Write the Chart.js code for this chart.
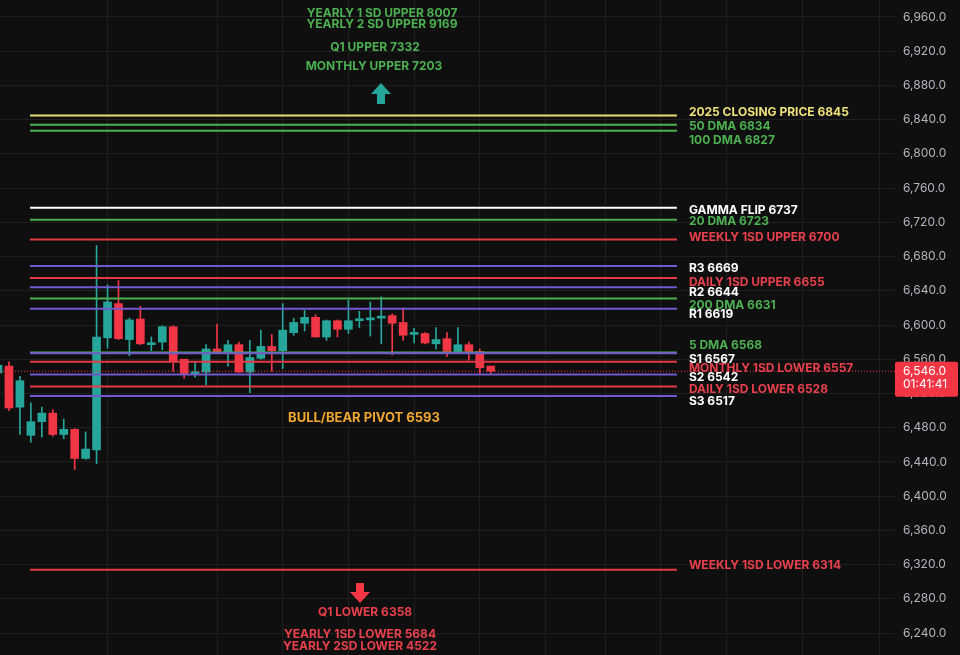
<!DOCTYPE html>
<html><head><meta charset="utf-8">
<script src="https://cdn.jsdelivr.net/npm/chart.js@4"></script>
<style>html,body{margin:0;padding:0;background:#0f0f0f;}#wrap{width:960px;height:655px;position:relative}</style>
</head><body><div id="wrap"><canvas id="c"></canvas></div>
<script>
// ---- data ----
const candleIndex = Array.from({length: 46}, (_, i) => i);
const opens  = [6544,6552,6504,6471,6487,6497,6472,6478,6444,6454,6585,6625,6583,6607,6577,6580,6598,6560,6543,6545,6572,6568,6577,6545,6561,6575,6570,6591,6602,6609,6586,6605,6595,6605,6606,6608,6611,6603,6589,6590,6578,6584,6569,6577,6569,6552];
const highs  = [6557,6557,6540,6509,6504,6501,6490,6479,6475,6693,6647,6652,6608,6622,6586,6599,6599,6560,6556,6577,6601,6582,6580,6582,6594,6589,6625,6608,6617,6612,6606,6606,6629,6616,6627,6633,6613,6620,6596,6591,6597,6591,6597,6580,6572,6552];
const lows   = [6540,6500,6472,6463,6469,6470,6467,6431,6443,6438,6573,6583,6564,6577,6570,6571,6546,6538,6539,6530,6568,6552,6545,6521,6560,6546,6549,6588,6593,6586,6582,6586,6590,6597,6587,6578,6565,6582,6579,6578,6572,6563,6568,6559,6543,6543];
const closes = [6553,6503,6535,6487,6497,6472,6478,6444,6455,6586,6627,6584,6606,6578,6579,6598,6558,6543,6545,6572,6569,6577,6545,6562,6575,6570,6594,6603,6609,6586,6605,6595,6605,6607,6608,6610,6602,6588,6591,6579,6583,6569,6577,6569,6550,6546];

const levelNames  = ["2025 CLOSING PRICE","50 DMA","100 DMA","GAMMA FLIP","20 DMA","WEEKLY 1SD UPPER","R3","DAILY 1SD UPPER","R2","200 DMA","R1","5 DMA","S1","MONTHLY 1SD LOWER","S2","DAILY 1SD LOWER","S3","WEEKLY 1SD LOWER"];
const levelValues = [6845,6834,6827,6737,6723,6700,6669,6655,6644,6631,6619,6568,6567,6557,6542,6528,6517,6314];
const levelKinds  = ["close","ma","ma","gamma","ma","sd","pivot","sd","pivot","ma","pivot","ma","pivot","sd","pivot","sd","pivot","sd"];

const topNotes    = ["YEARLY 1 SD UPPER 8007","YEARLY 2 SD UPPER 9169","Q1 UPPER 7332","MONTHLY UPPER 7203"];
const bottomNotes = ["Q1 LOWER 6358","YEARLY 1SD LOWER 5684","YEARLY 2SD LOWER 4522"];
const pivotNote   = "BULL/BEAR PIVOT 6593";

const yTickValues = [6240,6280,6320,6360,6400,6440,6480,6520,6560,6600,6640,6680,6720,6760,6800,6840,6880,6920,6960];
const timeGridIdx = [3,17,23,29,35,41,47,53,58,63,70,77];
const lastPrice = 6546.0;
const countdown = "01:41:41";

// ---- styles / layout ----
const UP = '#26a69a', DOWN = '#f23645';
const lineColor = {close:'#e8dc6a', ma:'#4caf50', gamma:'#ffffff', sd:'#e53945', pivot:'#7159cf'};
const textColor = {close:'#ece07a', ma:'#4caf50', gamma:'#ffffff', sd:'#e8404c', pivot:'#ffffff'};
const LINE_START = 2.92, LINE_END = 62.0;
const X_MIN = 0.18, X_MAX = 81.92;
const Y_MIN = 6214.29, Y_MAX = 6979.87;
const FONT = 'Inter, "Noto Sans", sans-serif';
const topNotePos = [[382,13],[382,24],[375,47],[374,66]];
const bottomNotePos = [[365,612],[360,634],[360,646]];
// pixel nudges of the right-hand labels (de-overlap), in level order
const labelNudge = [-3,2,10,3,2,-2,2,4,5,7,6,-7,6,7,3,3,5,-4];

const candleColors = opens.map((o,i)=> closes[i] >= o ? UP : DOWN);

const datasets = [];
levelValues.forEach((v,i)=>{
  datasets.push({
    type:'line', label: levelNames[i],
    data:[{x:LINE_START,y:v},{x:LINE_END,y:v}],
    borderColor: lineColor[levelKinds[i]], borderWidth: 2,
    pointRadius: 0, order: -i
  });
});
datasets.push({
  type:'line', label:'last',
  data:[{x:X_MIN,y:lastPrice},{x:X_MAX,y:lastPrice}],
  borderColor: DOWN, borderWidth: 1, borderDash:[1,2], pointRadius:0, order: -100
});
datasets.push({
  type:'bar', label:'wick', grouped:false,
  data: candleIndex.map(i=>({x:i, y:[lows[i], highs[i]]})),
  backgroundColor: candleColors, barThickness: 1, order: 200
});
datasets.push({
  type:'bar', label:'body', grouped:false,
  data: candleIndex.map(i=>({x:i, y:[opens[i], closes[i]]})),
  backgroundColor: candleColors, barThickness: 8, minBarLength: 2, order: 100
});

const annot = {
  id:'annot',
  afterDatasetsDraw(chart){
    const ctx = chart.ctx, ys = chart.scales.y, xs = chart.scales.x;
    ctx.save();
    const lx = xs.getPixelForValue(LINE_END) + 12;
    ctx.font = 'bold 12px ' + FONT;
    ctx.textAlign = 'left'; ctx.textBaseline = 'middle';
    levelValues.forEach((v,i)=>{
      ctx.fillStyle = textColor[levelKinds[i]];
      ctx.fillText(levelNames[i] + ' ' + v, lx, ys.getPixelForValue(v) + labelNudge[i]);
    });
    ctx.textAlign = 'center';
    ctx.fillStyle = '#4caf50';
    topNotes.forEach((t,i)=> ctx.fillText(t, topNotePos[i][0], topNotePos[i][1]));
    ctx.fillStyle = '#e8404c';
    bottomNotes.forEach((t,i)=> ctx.fillText(t, bottomNotePos[i][0], bottomNotePos[i][1]));
    ctx.font = 'bold 13px ' + FONT;
    ctx.fillStyle = '#f0a830';
    ctx.fillText(pivotNote, 364, 418);
    ctx.fillStyle = UP;
    ctx.beginPath();
    ctx.moveTo(381,83); ctx.lineTo(391,94); ctx.lineTo(385,94); ctx.lineTo(385,104);
    ctx.lineTo(377,104); ctx.lineTo(377,94); ctx.lineTo(371,94); ctx.closePath(); ctx.fill();
    ctx.fillStyle = DOWN;
    ctx.beginPath();
    ctx.moveTo(360,603); ctx.lineTo(370,592); ctx.lineTo(364,592); ctx.lineTo(364,583);
    ctx.lineTo(356,583); ctx.lineTo(356,592); ctx.lineTo(350,592); ctx.closePath(); ctx.fill();
    ctx.restore();
  },
  afterDraw(chart){
    const ctx = chart.ctx, ys = chart.scales.y;
    const y = ys.getPixelForValue(lastPrice);
    const x0 = chart.chartArea.right;
    ctx.save();
    ctx.fillStyle = DOWN;
    ctx.beginPath();
    ctx.roundRect(x0, y-9.5, 63, 35, 2);
    ctx.fill();
    ctx.fillStyle = '#ffffff';
    ctx.font = '12px ' + FONT;
    ctx.textAlign = 'left'; ctx.textBaseline = 'middle';
    ctx.fillText(lastPrice.toLocaleString('en-US',{minimumFractionDigits:1, maximumFractionDigits:1}), x0+8, y+0.5);
    ctx.fillText(countdown, x0+8, y+13.5);
    ctx.restore();
  }
};

const bg = {
  id:'bg',
  beforeDraw(chart){
    const ctx = chart.ctx;
    ctx.save(); ctx.fillStyle = '#0f0f0f'; ctx.fillRect(0,0,chart.width,chart.height); ctx.restore();
  }
};

new Chart(document.getElementById('c'), {
  type:'bar',
  data:{ datasets },
  options:{
    responsive:true, maintainAspectRatio:false, animation:false,
    layout:{ padding:0 },
    plugins:{ legend:{display:false}, tooltip:{enabled:false} },
    scales:{
      x:{
        type:'linear', min:X_MIN, max:X_MAX, offset:false,
        grid:{ color:'#1f1f1f', lineWidth:1, drawTicks:false },
        border:{ display:false },
        ticks:{ display:false, padding:0 },
        afterBuildTicks(s){ s.ticks = timeGridIdx.map(v=>({value:v})); },
        afterFit(s){ s.height = 0; s.paddingLeft = 0; s.paddingRight = 0; s.paddingTop = 0; s.paddingBottom = 0; }
      },
      y:{
        position:'right', min:Y_MIN, max:Y_MAX,
        grid:{ color:'#1f1f1f', lineWidth:1, drawTicks:false },
        border:{ display:false },
        ticks:{
          color:'#b2b5be', padding:8, font:{family:FONT, size:12},
          callback:(v)=> Number(v).toLocaleString('en-US',{minimumFractionDigits:1, maximumFractionDigits:1})
        },
        afterBuildTicks(s){ s.ticks = yTickValues.map(v=>({value:v})); },
        afterFit(s){ s.width = 65; s.paddingTop = 0; s.paddingBottom = 0; s.paddingLeft = 0; s.paddingRight = 0; }
      }
    }
  },
  plugins:[bg, annot]
});
</script>
</body></html>
